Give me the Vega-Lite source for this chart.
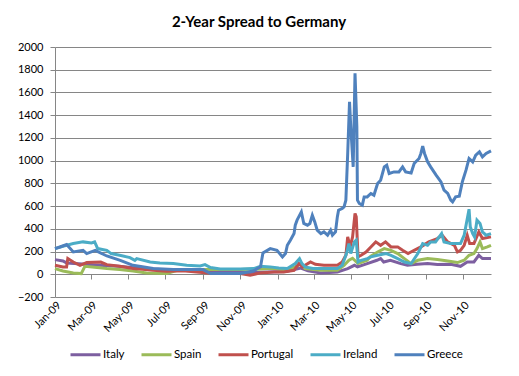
{
"$schema": "https://vega.github.io/schema/vega-lite/v6.json",
"autosize": "none",
"width": 436, "height": 250,
"padding": {"left": 55, "top": 47, "right": 28, "bottom": 79},
"background": "white",
"title": {"text": "2-Year Spread to Germany", "font": "Lato", "fontSize": 15, "fontWeight": "bold", "color": "black", "anchor": "middle", "dx": -14, "offset": 11},
"config": {"view": {"stroke": null}, "font": "Lato"},
"datasets": {
"s": [
{"d":"2009-01-01","c":"Italy","v":129},{"d":"2009-01-14","c":"Italy","v":117},{"d":"2009-01-20","c":"Italy","v":100},{"d":"2009-02-15","c":"Italy","v":90},{"d":"2009-03-15","c":"Italy","v":80},{"d":"2009-04-15","c":"Italy","v":70},{"d":"2009-05-15","c":"Italy","v":55},{"d":"2009-06-15","c":"Italy","v":45},{"d":"2009-07-15","c":"Italy","v":35},{"d":"2009-08-15","c":"Italy","v":30},{"d":"2009-09-15","c":"Italy","v":25},{"d":"2009-10-15","c":"Italy","v":20},{"d":"2009-11-15","c":"Italy","v":15},{"d":"2009-12-15","c":"Italy","v":20},{"d":"2010-01-15","c":"Italy","v":25},{"d":"2010-02-08","c":"Italy","v":55},{"d":"2010-02-20","c":"Italy","v":30},{"d":"2010-03-13","c":"Italy","v":12},{"d":"2010-04-09","c":"Italy","v":20},{"d":"2010-04-26","c":"Italy","v":50},{"d":"2010-05-07","c":"Italy","v":79},{"d":"2010-05-12","c":"Italy","v":65},{"d":"2010-05-28","c":"Italy","v":94},{"d":"2010-06-13","c":"Italy","v":123},{"d":"2010-06-19","c":"Italy","v":138},{"d":"2010-06-24","c":"Italy","v":108},{"d":"2010-07-05","c":"Italy","v":123},{"d":"2010-07-22","c":"Italy","v":94},{"d":"2010-08-02","c":"Italy","v":79},{"d":"2010-08-18","c":"Italy","v":88},{"d":"2010-09-04","c":"Italy","v":94},{"d":"2010-09-20","c":"Italy","v":85},{"d":"2010-10-12","c":"Italy","v":88},{"d":"2010-10-28","c":"Italy","v":70},{"d":"2010-11-08","c":"Italy","v":108},{"d":"2010-11-19","c":"Italy","v":108},{"d":"2010-11-27","c":"Italy","v":167},{"d":"2010-12-03","c":"Italy","v":138},{"d":"2010-12-17","c":"Italy","v":138},

{"d":"2009-01-01","c":"Spain","v":50},{"d":"2009-01-14","c":"Spain","v":29},{"d":"2009-01-31","c":"Spain","v":12},{"d":"2009-02-13","c":"Spain","v":6},{"d":"2009-02-19","c":"Spain","v":70},{"d":"2009-03-11","c":"Spain","v":59},{"d":"2009-03-27","c":"Spain","v":50},{"d":"2009-04-17","c":"Spain","v":41},{"d":"2009-05-09","c":"Spain","v":29},{"d":"2009-05-31","c":"Spain","v":12},{"d":"2009-07-03","c":"Spain","v":6},{"d":"2009-07-25","c":"Spain","v":41},{"d":"2009-08-27","c":"Spain","v":41},{"d":"2009-09-18","c":"Spain","v":41},{"d":"2009-11-01","c":"Spain","v":41},{"d":"2009-12-04","c":"Spain","v":47},{"d":"2009-12-26","c":"Spain","v":53},{"d":"2010-01-14","c":"Spain","v":35},{"d":"2010-01-30","c":"Spain","v":65},{"d":"2010-02-08","c":"Spain","v":94},{"d":"2010-02-15","c":"Spain","v":50},{"d":"2010-03-13","c":"Spain","v":35},{"d":"2010-04-09","c":"Spain","v":35},{"d":"2010-04-20","c":"Spain","v":79},{"d":"2010-04-28","c":"Spain","v":123},{"d":"2010-05-04","c":"Spain","v":141},{"d":"2010-05-13","c":"Spain","v":94},{"d":"2010-05-28","c":"Spain","v":123},{"d":"2010-06-03","c":"Spain","v":160},{"d":"2010-06-14","c":"Spain","v":196},{"d":"2010-06-25","c":"Spain","v":226},{"d":"2010-07-06","c":"Spain","v":211},{"d":"2010-07-17","c":"Spain","v":182},{"d":"2010-07-28","c":"Spain","v":138},{"d":"2010-08-08","c":"Spain","v":94},{"d":"2010-08-19","c":"Spain","v":123},{"d":"2010-09-04","c":"Spain","v":138},{"d":"2010-09-20","c":"Spain","v":129},{"d":"2010-10-07","c":"Spain","v":117},{"d":"2010-10-23","c":"Spain","v":103},{"d":"2010-11-03","c":"Spain","v":123},{"d":"2010-11-11","c":"Spain","v":167},{"d":"2010-11-19","c":"Spain","v":182},{"d":"2010-11-24","c":"Spain","v":226},{"d":"2010-11-29","c":"Spain","v":285},{"d":"2010-12-03","c":"Spain","v":226},{"d":"2010-12-11","c":"Spain","v":241},{"d":"2010-12-17","c":"Spain","v":255},

{"d":"2009-01-01","c":"Portugal","v":79},{"d":"2009-01-14","c":"Portugal","v":65},{"d":"2009-01-20","c":"Portugal","v":65},{"d":"2009-01-22","c":"Portugal","v":138},{"d":"2009-01-31","c":"Portugal","v":108},{"d":"2009-02-11","c":"Portugal","v":79},{"d":"2009-02-22","c":"Portugal","v":103},{"d":"2009-03-17","c":"Portugal","v":108},{"d":"2009-03-27","c":"Portugal","v":85},{"d":"2009-04-17","c":"Portugal","v":70},{"d":"2009-05-09","c":"Portugal","v":50},{"d":"2009-05-20","c":"Portugal","v":47},{"d":"2009-06-11","c":"Portugal","v":35},{"d":"2009-07-03","c":"Portugal","v":26},{"d":"2009-07-30","c":"Portugal","v":30},{"d":"2009-08-21","c":"Portugal","v":20},{"d":"2009-09-18","c":"Portugal","v":6},{"d":"2009-11-01","c":"Portugal","v":6},{"d":"2009-11-17","c":"Portugal","v":-9},{"d":"2009-12-04","c":"Portugal","v":12},{"d":"2009-12-26","c":"Portugal","v":20},{"d":"2010-01-11","c":"Portugal","v":20},{"d":"2010-01-28","c":"Portugal","v":35},{"d":"2010-02-05","c":"Portugal","v":94},{"d":"2010-02-11","c":"Portugal","v":65},{"d":"2010-02-24","c":"Portugal","v":108},{"d":"2010-03-04","c":"Portugal","v":88},{"d":"2010-03-18","c":"Portugal","v":79},{"d":"2010-04-09","c":"Portugal","v":79},{"d":"2010-04-17","c":"Portugal","v":108},{"d":"2010-04-23","c":"Portugal","v":167},{"d":"2010-04-26","c":"Portugal","v":329},{"d":"2010-04-30","c":"Portugal","v":241},{"d":"2010-05-04","c":"Portugal","v":329},{"d":"2010-05-08","c":"Portugal","v":535},{"d":"2010-05-10","c":"Portugal","v":505},{"d":"2010-05-13","c":"Portugal","v":153},{"d":"2010-05-18","c":"Portugal","v":167},{"d":"2010-05-26","c":"Portugal","v":196},{"d":"2010-06-03","c":"Portugal","v":240},{"d":"2010-06-11","c":"Portugal","v":285},{"d":"2010-06-19","c":"Portugal","v":255},{"d":"2010-06-27","c":"Portugal","v":285},{"d":"2010-07-06","c":"Portugal","v":241},{"d":"2010-07-17","c":"Portugal","v":241},{"d":"2010-07-25","c":"Portugal","v":211},{"d":"2010-08-03","c":"Portugal","v":182},{"d":"2010-08-13","c":"Portugal","v":211},{"d":"2010-08-24","c":"Portugal","v":241},{"d":"2010-09-06","c":"Portugal","v":285},{"d":"2010-09-20","c":"Portugal","v":314},{"d":"2010-09-28","c":"Portugal","v":344},{"d":"2010-10-07","c":"Portugal","v":285},{"d":"2010-10-18","c":"Portugal","v":255},{"d":"2010-10-23","c":"Portugal","v":196},{"d":"2010-10-28","c":"Portugal","v":211},{"d":"2010-11-03","c":"Portugal","v":255},{"d":"2010-11-08","c":"Portugal","v":344},{"d":"2010-11-12","c":"Portugal","v":270},{"d":"2010-11-19","c":"Portugal","v":270},{"d":"2010-11-27","c":"Portugal","v":373},{"d":"2010-12-03","c":"Portugal","v":314},{"d":"2010-12-17","c":"Portugal","v":329},

{"d":"2009-01-01","c":"Ireland","v":226},{"d":"2009-01-14","c":"Ireland","v":247},{"d":"2009-01-31","c":"Ireland","v":270},{"d":"2009-02-16","c":"Ireland","v":285},{"d":"2009-03-02","c":"Ireland","v":276},{"d":"2009-03-07","c":"Ireland","v":285},{"d":"2009-03-12","c":"Ireland","v":226},{"d":"2009-03-27","c":"Ireland","v":211},{"d":"2009-04-03","c":"Ireland","v":182},{"d":"2009-04-17","c":"Ireland","v":167},{"d":"2009-05-04","c":"Ireland","v":147},{"d":"2009-05-12","c":"Ireland","v":123},{"d":"2009-05-15","c":"Ireland","v":138},{"d":"2009-06-06","c":"Ireland","v":108},{"d":"2009-06-22","c":"Ireland","v":100},{"d":"2009-07-14","c":"Ireland","v":94},{"d":"2009-08-05","c":"Ireland","v":79},{"d":"2009-08-27","c":"Ireland","v":73},{"d":"2009-09-04","c":"Ireland","v":85},{"d":"2009-09-13","c":"Ireland","v":59},{"d":"2009-09-29","c":"Ireland","v":47},{"d":"2009-11-01","c":"Ireland","v":47},{"d":"2009-11-23","c":"Ireland","v":50},{"d":"2009-12-04","c":"Ireland","v":70},{"d":"2009-12-20","c":"Ireland","v":65},{"d":"2010-01-03","c":"Ireland","v":55},{"d":"2010-01-17","c":"Ireland","v":50},{"d":"2010-01-30","c":"Ireland","v":94},{"d":"2010-02-06","c":"Ireland","v":138},{"d":"2010-02-10","c":"Ireland","v":94},{"d":"2010-02-15","c":"Ireland","v":65},{"d":"2010-02-28","c":"Ireland","v":50},{"d":"2010-03-18","c":"Ireland","v":50},{"d":"2010-04-09","c":"Ireland","v":50},{"d":"2010-04-17","c":"Ireland","v":79},{"d":"2010-04-24","c":"Ireland","v":182},{"d":"2010-04-28","c":"Ireland","v":270},{"d":"2010-05-01","c":"Ireland","v":182},{"d":"2010-05-07","c":"Ireland","v":285},{"d":"2010-05-10","c":"Ireland","v":300},{"d":"2010-05-13","c":"Ireland","v":108},{"d":"2010-05-18","c":"Ireland","v":123},{"d":"2010-05-28","c":"Ireland","v":138},{"d":"2010-06-03","c":"Ireland","v":153},{"d":"2010-06-14","c":"Ireland","v":167},{"d":"2010-06-28","c":"Ireland","v":182},{"d":"2010-07-06","c":"Ireland","v":167},{"d":"2010-07-17","c":"Ireland","v":138},{"d":"2010-07-28","c":"Ireland","v":108},{"d":"2010-08-08","c":"Ireland","v":94},{"d":"2010-08-19","c":"Ireland","v":182},{"d":"2010-08-27","c":"Ireland","v":270},{"d":"2010-09-04","c":"Ireland","v":255},{"d":"2010-09-09","c":"Ireland","v":285},{"d":"2010-09-17","c":"Ireland","v":285},{"d":"2010-09-27","c":"Ireland","v":358},{"d":"2010-10-01","c":"Ireland","v":285},{"d":"2010-10-12","c":"Ireland","v":270},{"d":"2010-10-20","c":"Ireland","v":270},{"d":"2010-10-28","c":"Ireland","v":270},{"d":"2010-11-03","c":"Ireland","v":344},{"d":"2010-11-11","c":"Ireland","v":573},{"d":"2010-11-13","c":"Ireland","v":417},{"d":"2010-11-17","c":"Ireland","v":358},{"d":"2010-11-20","c":"Ireland","v":329},{"d":"2010-11-24","c":"Ireland","v":476},{"d":"2010-11-29","c":"Ireland","v":447},{"d":"2010-12-03","c":"Ireland","v":373},{"d":"2010-12-09","c":"Ireland","v":344},{"d":"2010-12-17","c":"Ireland","v":358},

{"d":"2009-01-01","c":"Greece","v":226},{"d":"2009-01-09","c":"Greece","v":240},{"d":"2009-01-20","c":"Greece","v":262},{"d":"2009-01-31","c":"Greece","v":196},{"d":"2009-02-16","c":"Greece","v":211},{"d":"2009-02-22","c":"Greece","v":182},{"d":"2009-03-08","c":"Greece","v":211},{"d":"2009-03-27","c":"Greece","v":161},{"d":"2009-04-18","c":"Greece","v":123},{"d":"2009-05-09","c":"Greece","v":79},{"d":"2009-06-11","c":"Greece","v":50},{"d":"2009-07-14","c":"Greece","v":41},{"d":"2009-09-01","c":"Greece","v":41},{"d":"2009-09-13","c":"Greece","v":6},{"d":"2009-11-01","c":"Greece","v":6},{"d":"2009-11-22","c":"Greece","v":29},{"d":"2009-12-04","c":"Greece","v":65},{"d":"2009-12-08","c":"Greece","v":188},{"d":"2009-12-20","c":"Greece","v":226},{"d":"2009-12-31","c":"Greece","v":211},{"d":"2010-01-09","c":"Greece","v":153},{"d":"2010-01-14","c":"Greece","v":182},{"d":"2010-01-17","c":"Greece","v":255},{"d":"2010-01-22","c":"Greece","v":300},{"d":"2010-01-28","c":"Greece","v":358},{"d":"2010-01-30","c":"Greece","v":432},{"d":"2010-02-02","c":"Greece","v":476},{"d":"2010-02-09","c":"Greece","v":549},{"d":"2010-02-13","c":"Greece","v":447},{"d":"2010-02-19","c":"Greece","v":432},{"d":"2010-02-23","c":"Greece","v":447},{"d":"2010-02-27","c":"Greece","v":520},{"d":"2010-03-03","c":"Greece","v":461},{"d":"2010-03-07","c":"Greece","v":388},{"d":"2010-03-13","c":"Greece","v":358},{"d":"2010-03-18","c":"Greece","v":373},{"d":"2010-03-24","c":"Greece","v":344},{"d":"2010-03-29","c":"Greece","v":388},{"d":"2010-04-01","c":"Greece","v":344},{"d":"2010-04-06","c":"Greece","v":373},{"d":"2010-04-09","c":"Greece","v":505},{"d":"2010-04-11","c":"Greece","v":564},{"d":"2010-04-17","c":"Greece","v":579},{"d":"2010-04-20","c":"Greece","v":593},{"d":"2010-04-23","c":"Greece","v":652},{"d":"2010-04-26","c":"Greece","v":1063},{"d":"2010-04-29","c":"Greece","v":1518},{"d":"2010-05-01","c":"Greece","v":1298},{"d":"2010-05-05","c":"Greece","v":945},{"d":"2010-05-08","c":"Greece","v":1768},{"d":"2010-05-11","c":"Greece","v":1298},{"d":"2010-05-12","c":"Greece","v":652},{"d":"2010-05-15","c":"Greece","v":623},{"d":"2010-05-20","c":"Greece","v":608},{"d":"2010-05-23","c":"Greece","v":681},{"d":"2010-05-28","c":"Greece","v":681},{"d":"2010-06-03","c":"Greece","v":711},{"d":"2010-06-08","c":"Greece","v":696},{"d":"2010-06-14","c":"Greece","v":799},{"d":"2010-06-19","c":"Greece","v":828},{"d":"2010-06-25","c":"Greece","v":945},{"d":"2010-06-29","c":"Greece","v":960},{"d":"2010-07-03","c":"Greece","v":887},{"d":"2010-07-11","c":"Greece","v":901},{"d":"2010-07-19","c":"Greece","v":901},{"d":"2010-07-25","c":"Greece","v":945},{"d":"2010-07-30","c":"Greece","v":901},{"d":"2010-08-08","c":"Greece","v":892},{"d":"2010-08-13","c":"Greece","v":975},{"d":"2010-08-21","c":"Greece","v":1019},{"d":"2010-08-24","c":"Greece","v":1063},{"d":"2010-08-27","c":"Greece","v":1128},{"d":"2010-08-30","c":"Greece","v":1063},{"d":"2010-09-04","c":"Greece","v":989},{"d":"2010-09-09","c":"Greece","v":945},{"d":"2010-09-18","c":"Greece","v":872},{"d":"2010-09-26","c":"Greece","v":813},{"d":"2010-10-01","c":"Greece","v":740},{"d":"2010-10-07","c":"Greece","v":711},{"d":"2010-10-12","c":"Greece","v":652},{"d":"2010-10-15","c":"Greece","v":637},{"d":"2010-10-20","c":"Greece","v":681},{"d":"2010-10-26","c":"Greece","v":687},{"d":"2010-10-31","c":"Greece","v":813},{"d":"2010-11-06","c":"Greece","v":916},{"d":"2010-11-11","c":"Greece","v":1019},{"d":"2010-11-17","c":"Greece","v":989},{"d":"2010-11-22","c":"Greece","v":1048},{"d":"2010-11-28","c":"Greece","v":1077},{"d":"2010-12-03","c":"Greece","v":1033},{"d":"2010-12-09","c":"Greece","v":1063},{"d":"2010-12-17","c":"Greece","v":1086}
]
},
"data": {"name": "s"},
"layer": [
{
"mark": {"type": "tick", "opacity": 0},
"encoding": {
"x": {"field": "d", "type": "temporal",
"scale": {"type": "utc", "domain": [{"year": 2009, "month": 1, "date": 1, "utc": true}, {"year": 2010, "month": 12, "date": 17, "utc": true}]},
"axis": {"orient": "bottom", "values": [{"year":2009,"month":1,"date":1,"utc":true},{"year":2009,"month":3,"date":1,"utc":true},{"year":2009,"month":5,"date":1,"utc":true},{"year":2009,"month":7,"date":1,"utc":true},{"year":2009,"month":9,"date":1,"utc":true},{"year":2009,"month":11,"date":1,"utc":true},{"year":2010,"month":1,"date":1,"utc":true},{"year":2010,"month":3,"date":1,"utc":true},{"year":2010,"month":5,"date":1,"utc":true},{"year":2010,"month":7,"date":1,"utc":true},{"year":2010,"month":9,"date":1,"utc":true},{"year":2010,"month":11,"date":1,"utc":true}],
"labels": false, "domain": false, "grid": false, "ticks": true, "tickSize": 5, "tickColor": "#868686", "offset": -23, "title": null}
}
}
},
{
"mark": {"type": "line", "strokeWidth": 3, "interpolate": "linear"},
"encoding": {
"x": {"field": "d", "type": "temporal",
"axis": {"orient": "bottom", "values": [{"year":2009,"month":1,"date":1,"utc":true},{"year":2009,"month":3,"date":1,"utc":true},{"year":2009,"month":5,"date":1,"utc":true},{"year":2009,"month":7,"date":1,"utc":true},{"year":2009,"month":9,"date":1,"utc":true},{"year":2009,"month":11,"date":1,"utc":true},{"year":2010,"month":1,"date":1,"utc":true},{"year":2010,"month":3,"date":1,"utc":true},{"year":2010,"month":5,"date":1,"utc":true},{"year":2010,"month":7,"date":1,"utc":true},{"year":2010,"month":9,"date":1,"utc":true},{"year":2010,"month":11,"date":1,"utc":true}],
"format": "%b-%y", "labelAngle": -45, "labelFont": "Lato", "labelFontSize": 11, "labelColor": "black", "labelPadding": 2,
"domain": false, "ticks": false, "grid": false, "title": null}
},
"y": {"field": "v", "type": "quantitative",
"scale": {"domain": [-200, 2000], "nice": false, "zero": false},
"axis": {"values": [-200,0,200,400,600,800,1000,1200,1400,1600,1800,2000], "format": "d", "title": null,
"grid": true, "gridColor": "#868686", "gridWidth": 1, "domainColor": "#868686", "tickColor": "#868686", "tickSize": 5,
"labelFont": "Lato", "labelFontSize": 11, "labelColor": "black", "labelPadding": 7}
},
"color": {"field": "c", "type": "nominal",
"scale": {"domain": ["Italy", "Spain", "Portugal", "Ireland", "Greece"], "range": ["#7D5FA0", "#9BBB59", "#C0504D", "#4BACC6", "#4F81BD"]},
"legend": {"orient": "none", "legendX": 14, "legendY": 291, "direction": "horizontal", "title": null,
"symbolType": "stroke", "symbolSize": 900, "symbolStrokeWidth": 3, "labelFont": "Lato", "labelFontSize": 11.5, "labelColor": "black", "labelOffset": 1, "columnPadding": 10}
}
}
}
],
"resolve": {"axis": {"x": "independent"}}
}
